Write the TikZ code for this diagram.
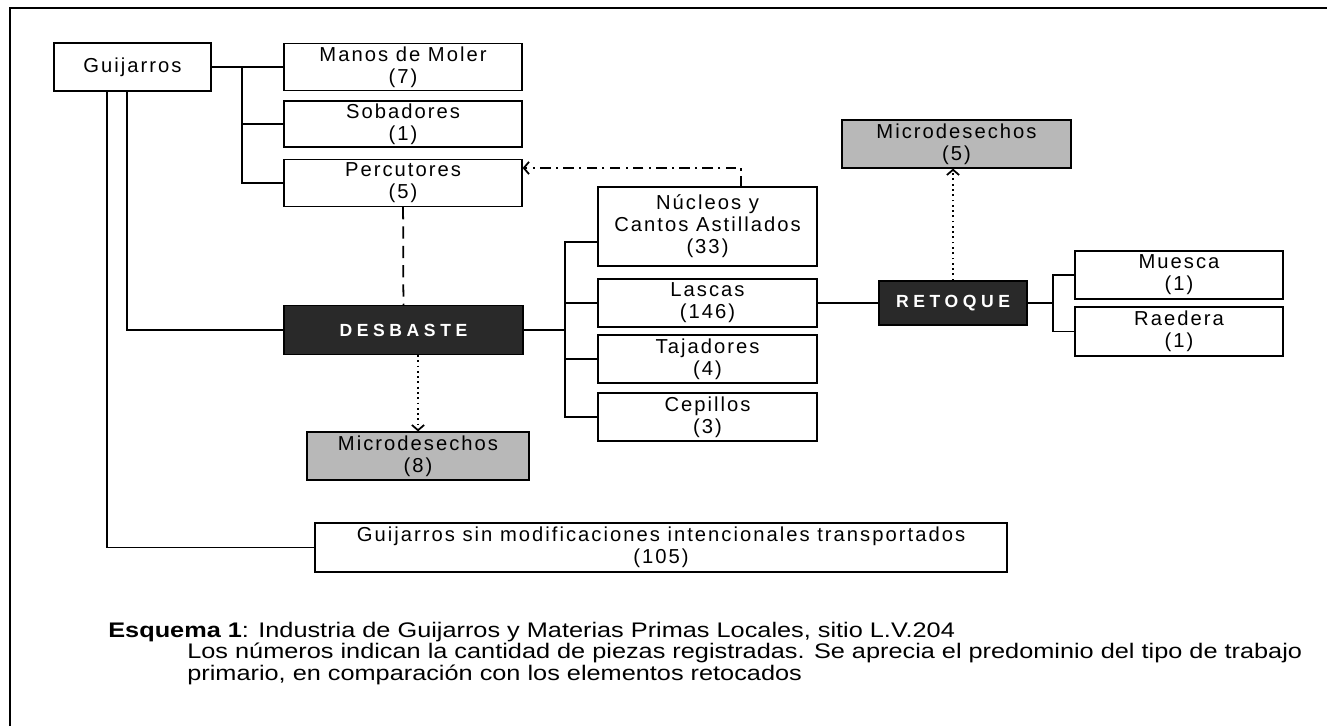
\documentclass[tikz,border=0pt]{standalone}
\usepackage{fontspec}
\setmainfont{Liberation Sans}
\newfontfamily\boxfont[LetterSpace=10]{Liberation Sans}
\newfontfamily\darkfont[LetterSpace=26]{Liberation Sans}
\newfontfamily\capfont[FakeStretch=1.2]{Liberation Sans}
\usetikzlibrary{positioning,calc,arrows.meta}
\definecolor{boxdark}{gray}{0.16}
\definecolor{microgray}{gray}{0.72}

\begin{document}
\begin{tikzpicture}[x=0.02cm,y=-0.02cm,
  box/.style={draw,line width=0.7pt,fill=white,inner sep=0pt,align=center,
    font=\boxfont\fontsize{11.5}{12.5}\selectfont},
  wh/.style 2 args={minimum width=#1*0.02cm,minimum height=#2*0.02cm},
  darkbox/.style={draw=black,line width=0.7pt,fill=boxdark,text=white,inner sep=0pt,
    font=\darkfont\bfseries\fontsize{10}{11}\selectfont},
  microbox/.style={box,fill=microgray},
  link/.style={line width=1.1pt},
  dotarrow/.style={line width=1pt,dotted,-{Straight Barb[length=3pt,width=7pt]}},
  dasharrow/.style={line width=1pt,dash pattern=on 6pt off 3pt on 1.2pt off 3pt,
    -{Straight Barb[length=3pt,width=7pt]}},
  captext/.style={anchor=base west,inner sep=0pt,font=\capfont\fontsize{12}{14}\selectfont}]
\useasboundingbox (0,0) rectangle (1327,726);
\draw[line width=1.2pt] (10,726) -- (10,8) -- (1327,8);

% raw material and direct use
\node[box,wh={157}{48}] (guij) at (132.5,67) {Guijarros};
\node[box,wh={238}{47}] (manos) at (403,67) {Manos de Moler\\(7)};
\node[box,wh={238}{46}] (sobad) at (403,124) {Sobadores\\(1)};
\node[box,wh={238}{47}] (percu) at (403,183) {Percutores\\(5)};
\node[darkbox,wh={239}{49}] (desb) at (403.5,330) {DESBASTE};
\node[microbox,wh={222}{48}] (micro8) at (418,456) {Microdesechos\\(8)};

% products of the reduction
\node[box,wh={219}{79}] (nucleos) at (707.5,226.5) {Núcleos y\\Cantos Astillados\\(33)};
\node[box,wh={219}{48}] (lascas) at (707.5,303) {Lascas\\(146)};
\node[box,wh={219}{48}] (tajad) at (707.5,359) {Tajadores\\(4)};
\node[box,wh={219}{48}] (cepil) at (707.5,417) {Cepillos\\(3)};

% retouch
\node[darkbox,wh={148}{44}] (retoq) at (953,303) {RETOQUE};
\node[microbox,wh={229}{48}] (micro5) at (956.5,144) {Microdesechos\\(5)};
\node[box,wh={208}{48}] (muesca) at (1179,275) {Muesca\\(1)};
\node[box,wh={208}{49}] (raed) at (1179,331.5) {Raedera\\(1)};

\node[box,wh={692}{49}] (sinmod) at (661,547.5)
  {Guijarros sin modificaciones intencionales transportados\\(105)};

\coordinate (t1) at (242,0);
\coordinate (t2) at (565,0);
\coordinate (t3) at (1053,0);

\draw[link] (guij) -- (manos);
\draw[link] (t1 |- manos) |- (percu.west);
\draw[link] (t1 |- sobad) -- (sobad.west);
\draw[link] ($(guij.south)+(-25.5,0)$) |- (sinmod.west);
\draw[link] ($(guij.south)+(-5.5,0)$) |- (desb.west);
\draw[line width=1pt,dash pattern=on 7pt off 4pt] (percu) -- (desb);
\draw[dotarrow] (micro8.north |- desb.south) -- (micro8.north);

\draw[link] (desb.east) -- (desb.east -| t2);
\draw[link] ($(nucleos.west)+(0,15.5)$) -| (t2 |- cepil.west) -- (cepil.west);
\draw[link] (t2 |- lascas.west) -- (lascas.west);
\draw[link] (t2 |- tajad.west) -- (tajad.west);
\draw[dasharrow] ($(nucleos.north)+(33.5,0)$) |- ($(percu.east)+(0,-15)$);

\draw[link] (lascas) -- (retoq);
\draw[dotarrow] (retoq.north) -- (retoq.north |- micro5.south);
\draw[link] (retoq.east) -- (retoq.east -| t3);
\draw[link] (muesca.west) -| (t3 |- raed.west) -- (raed.west);

% caption
\node[captext] (cap1) at (108,637)
  {\textbf{Esquema 1}: Industria de Guijarros y Materias Primas Locales, sitio L.V.204};
\node[captext] (cap2) at (187,658)
  {Los números indican la cantidad de piezas registradas. Se aprecia el predominio del tipo de trabajo};
\node[captext] (cap3) at (187,680)
  {primario, en comparación con los elementos retocados};
\end{tikzpicture}
\end{document}
